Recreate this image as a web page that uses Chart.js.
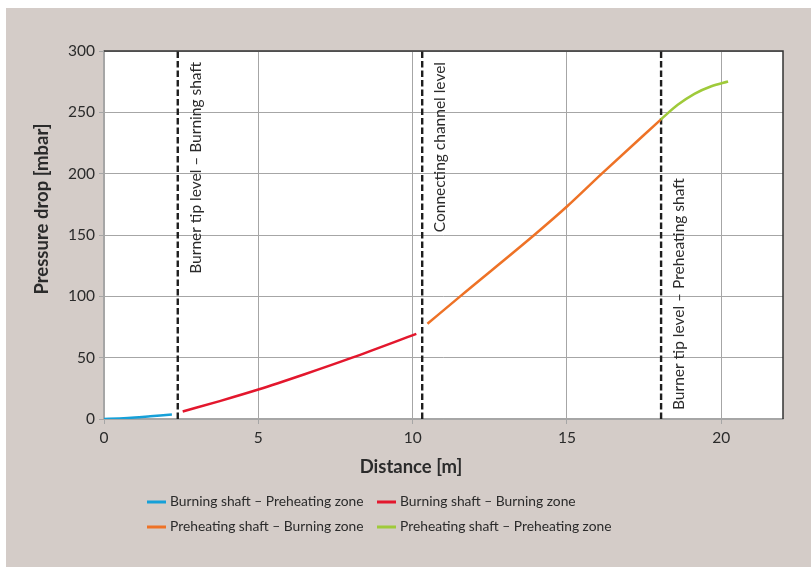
<!DOCTYPE html>
<html>
<head>
<meta charset="utf-8">
<script src="https://cdn.jsdelivr.net/npm/chart.js@4/dist/chart.umd.min.js"></script>
<style>
  html, body { margin: 0; padding: 0; background: #fff; }
  #wrap { position: relative; width: 811px; height: 567px; }
</style>
</head>
<body>
<div id="wrap"><canvas id="chart" width="811" height="567"></canvas></div>
<script>
// Burning shaft – Preheating zone
const bsPreheatDist = [0, 0.5, 1.0, 1.5, 2.2];
const bsPreheatDrop = [0, 0.5, 1.2, 2.2, 3.6];
// Burning shaft – Burning zone
const bsBurnDist = [2.55, 3.75, 5, 6.5, 8.04, 10.12];
const bsBurnDrop = [6.1, 14.6, 24, 36.5, 50, 69.4];
// Preheating shaft – Burning zone
const psBurnDist = [10.48, 11.54, 13.94, 15, 16.13, 18.03];
const psBurnDrop = [77.6, 100, 150, 173.2, 200, 243.9];
// Preheating shaft – Preheating zone
const psPreheatDist = [18.03, 18.59, 19.13, 19.68, 20.22];
const psPreheatDrop = [244, 256.1, 265.1, 271.3, 275.1];

const seriesNames = [
  'Burning shaft – Preheating zone',
  'Burning shaft – Burning zone',
  'Preheating shaft – Burning zone',
  'Preheating shaft – Preheating zone'
];
const seriesColors = ['#16a0d8', '#e3172d', '#ee7226', '#9fca3a'];

// vertical level markers
const levelDist = [2.39, 10.31, 18.05];
const levelNames = [
  'Burner tip level – Burning shaft',
  'Connecting channel level',
  'Burner tip level – Preheating shaft'
];
const levelAlign = ['top', 'top', 'bottom'];

const xTicks = [0, 5, 10, 15, 20];
const yTicks = [0, 50, 100, 150, 200, 250, 300];

const FONT = 'Lato, "Open Sans", sans-serif';
const TEXT = '#2b2b2b';

const toPoints = (xs, ys) => xs.map((x, i) => ({ x: x, y: ys[i] }));

const seriesData = [
  toPoints(bsPreheatDist, bsPreheatDrop),
  toPoints(bsBurnDist, bsBurnDrop),
  toPoints(psBurnDist, psBurnDrop),
  toPoints(psPreheatDist, psPreheatDrop)
];

const datasets = seriesData.map((pts, i) => ({
  label: seriesNames[i],
  data: pts,
  borderColor: seriesColors[i],
  backgroundColor: seriesColors[i],
  borderWidth: 2.5,
  pointRadius: 0,
  showLine: true,
  cubicInterpolationMode: 'monotone',
  inLegend: true
}));

levelDist.forEach((d, i) => {
  datasets.push({
    label: levelNames[i],
    data: [{ x: d, y: 0 }, { x: d, y: 300 }],
    borderColor: '#1e1e1e',
    borderWidth: 2.4,
    borderDash: [6.5, 3],
    pointRadius: 0,
    showLine: true,
    clip: false,
    inLegend: false,
    levelAlign: levelAlign[i]
  });
});

// background, white plot area, dark top/right frame
const framePlugin = {
  id: 'frame',
  beforeDraw(chart) {
    const { ctx, chartArea: a } = chart;
    ctx.save();
    ctx.fillStyle = '#d4ccc8';
    ctx.fillRect(6, 8, chart.width - 6, chart.height - 8);
    ctx.fillStyle = '#ffffff';
    ctx.fillRect(a.left, a.top, a.right - a.left, a.bottom - a.top);
    ctx.restore();
  },
  beforeDatasetsDraw(chart) {
    const { ctx, chartArea: a } = chart;
    ctx.save();
    ctx.strokeStyle = '#333333';
    ctx.lineWidth = 1.5;
    ctx.beginPath();
    ctx.moveTo(a.left, a.top);
    ctx.lineTo(a.right, a.top);
    ctx.lineTo(a.right, a.bottom);
    ctx.stroke();
    ctx.restore();
  }
};

// rotated labels next to the dashed level lines, axis titles, legend grid
const textPlugin = {
  id: 'texts',
  afterDraw(chart) {
    const { ctx, chartArea: a, scales } = chart;
    ctx.save();
    ctx.fillStyle = TEXT;

    ctx.font = '15.5px ' + FONT;
    ctx.textBaseline = 'middle';
    chart.data.datasets.forEach(ds => {
      if (ds.inLegend) return;
      const px = scales.x.getPixelForValue(ds.data[0].x) + 18;
      ctx.save();
      if (ds.levelAlign === 'top') {
        ctx.translate(px, a.top + 11);
        ctx.rotate(-Math.PI / 2);
        ctx.textAlign = 'right';
      } else {
        ctx.translate(px, a.bottom - 9);
        ctx.rotate(-Math.PI / 2);
        ctx.textAlign = 'left';
      }
      ctx.fillText(ds.label, 0, 0);
      ctx.restore();
    });

    // axis titles
    ctx.font = 'bold 18.5px ' + FONT;
    ctx.textAlign = 'center';
    ctx.fillText('Distance [m]', 411, 467);
    ctx.save();
    ctx.translate(42, 209);
    ctx.rotate(-Math.PI / 2);
    ctx.fillText('Pressure drop [mbar]', 0, 0);
    ctx.restore();

    // legend, two columns
    ctx.font = '13.8px ' + FONT;
    ctx.textAlign = 'left';
    const cols = [147, 377];
    const rows = [502, 527];
    const items = chart.data.datasets.filter(ds => ds.inLegend);
    items.forEach((ds, i) => {
      const cx = cols[i % 2];
      const cy = rows[Math.floor(i / 2)];
      ctx.strokeStyle = ds.borderColor;
      ctx.lineWidth = 3;
      ctx.beginPath();
      ctx.moveTo(cx, cy);
      ctx.lineTo(cx + 19, cy);
      ctx.stroke();
      ctx.fillText(ds.label, cx + 23, cy);
    });
    ctx.restore();
  }
};

new Chart(document.getElementById('chart'), {
  type: 'scatter',
  data: { datasets: datasets },
  plugins: [framePlugin, textPlugin],
  options: {
    responsive: false,
    animation: false,
    layout: { padding: { left: 54, right: 28, top: 51, bottom: 108 } },
    plugins: {
      legend: { display: false },
      tooltip: { enabled: false }
    },
    scales: {
      x: {
        type: 'linear',
        min: 0,
        max: 22,
        afterFit: (s) => { s.height = 40; },
        afterBuildTicks: (s) => { s.ticks = xTicks.map(v => ({ value: v })); },
        ticks: {
          padding: 5,
          color: TEXT,
          font: { family: FONT, size: 15.5 },
          maxRotation: 0
        },
        grid: { color: '#a6a6a6', lineWidth: 1, tickLength: 5 },
        border: { color: '#a6a6a6', width: 1.5 }
      },
      y: {
        type: 'linear',
        min: 0,
        max: 300,
        afterFit: (s) => { s.width = 50; },
        afterBuildTicks: (s) => { s.ticks = yTicks.map(v => ({ value: v })); },
        ticks: {
          padding: 4,
          color: TEXT,
          font: { family: FONT, size: 15.5 }
        },
        grid: { color: '#a6a6a6', lineWidth: 1, tickLength: 5 },
        border: { color: '#a6a6a6', width: 1.5 }
      }
    }
  }
});
</script>
</body>
</html>
